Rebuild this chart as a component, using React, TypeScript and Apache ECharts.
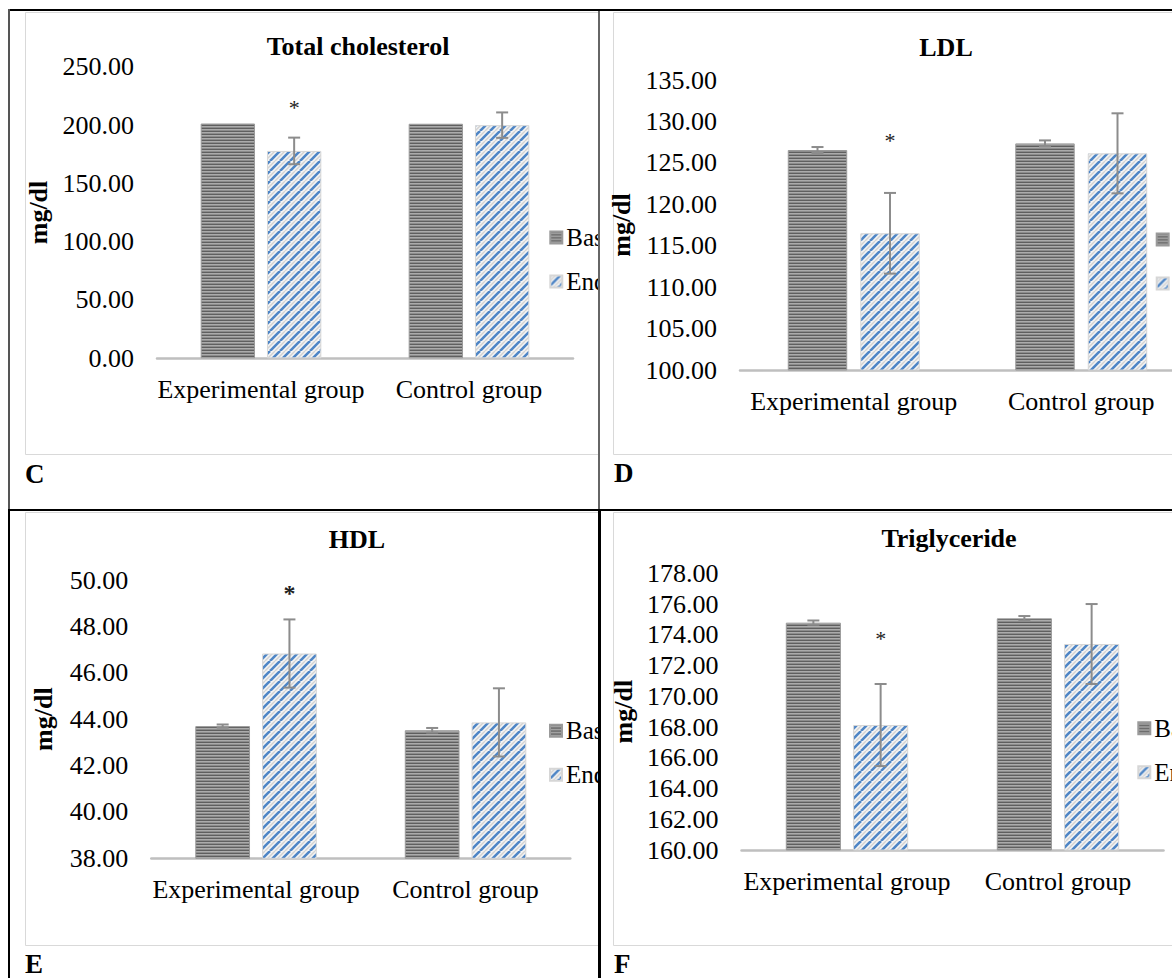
import React, { useEffect, useRef } from 'react';
import * as echarts from 'echarts';

// ---------------- DATA ----------------
const CATEGORIES = ['Experimental group', 'Control group'];
const SERIES_NAMES = ['Baseline', 'End'];
const Y_NAME = 'mg/dl';

const TC_TITLE = 'Total cholesterol';
const TC_BASE = [201.3, 201.1];
const TC_END = [177.8, 199.9];
const TC_BASE_ERR = [0, 0];
const TC_END_ERR = [11.4, 10.9];
const TC_STAR = 218.8;
const TC_AXIS = [0, 250, 50]; // min, max, step

const LDL_TITLE = 'LDL';
const LDL_BASE = [126.55, 127.35];
const LDL_END = [116.5, 126.15];
const LDL_BASE_ERR = [0.36, 0.36];
const LDL_END_ERR = [4.87, 4.83];
const LDL_STAR = 128.24;
const LDL_AXIS = [100, 135, 5];

const HDL_TITLE = 'HDL';
const HDL_BASE = [43.7, 43.52];
const HDL_END = [46.83, 43.86];
const HDL_BASE_ERR = [0.07, 0.1];
const HDL_END_ERR = [1.47, 1.47];
const HDL_STAR = 49.65;
const HDL_AXIS = [38, 50, 2];

const TG_TITLE = 'Triglyceride';
const TG_BASE = [174.79, 175.07];
const TG_END = [168.13, 173.4];
const TG_BASE_ERR = [0.14, 0.15];
const TG_END_ERR = [2.67, 2.6];
const TG_STAR = 174.03;
const TG_AXIS = [160, 178, 2];

const PANEL_LETTERS = ['C', 'D', 'E', 'F'];

// ---------------- STYLE / LAYOUT ----------------
const FONT = '"Liberation Serif", "Times New Roman", Times, serif';
const FS = 26;
const CAT_GAP = 0.42;
const BAR_GAP = 0.22;

function hStripes() {
  const c = document.createElement('canvas');
  c.width = 4;
  c.height = 3;
  const g = c.getContext('2d')!;
  const rows = ['#5f5f5f', '#ababab', '#8c8c8c'];
  rows.forEach((col, i) => {
    g.fillStyle = col;
    g.fillRect(0, i, 4, 1);
  });
  return { image: c, repeat: 'repeat', imageWidth: 4, imageHeight: 3 };
}

function dStripes() {
  const n = 10;
  const c = document.createElement('canvas');
  c.width = n;
  c.height = n;
  const g = c.getContext('2d')!;
  g.fillStyle = '#f4f4f4';
  g.fillRect(0, 0, n, n);
  g.strokeStyle = '#d2d2d2';
  g.lineWidth = 1.4;
  for (const k of [-n, 0, n]) {
    g.beginPath();
    g.moveTo(k + n / 2, n);
    g.lineTo(k + n / 2 + n, 0);
    g.stroke();
  }
  g.strokeStyle = '#4f86c6';
  g.lineWidth = 2.6;
  for (const k of [-n, 0, n]) {
    g.beginPath();
    g.moveTo(k, n);
    g.lineTo(k + n, 0);
    g.stroke();
  }
  return { image: c, repeat: 'repeat', imageWidth: n, imageHeight: n };
}

type Panel = {
  title: string;
  base: number[];
  end: number[];
  baseErr: number[];
  endErr: number[];
  star: number;
  axis: number[];
  letter: string;
  cell: number[]; // x, y, w, h (page)
  frame: number[]; // x, y, bottom (page)
  grid: number[]; // left, top, width, height (page)
  titleAt: number[];
  legendAt: number[];
  nameGap: number;
  letterAt: number[];
  starSize: number;
  starBold: boolean;
};

const PANELS: Panel[] = [
  {
    title: TC_TITLE, base: TC_BASE, end: TC_END, baseErr: TC_BASE_ERR, endErr: TC_END_ERR,
    star: TC_STAR, axis: TC_AXIS, letter: PANEL_LETTERS[0],
    cell: [10, 11, 588, 498], frame: [25, 12, 454], grid: [157, 66.7, 416, 291.6],
    titleAt: [358, 46.7], legendAt: [549.3, 237.5], nameGap: 101, letterAt: [25, 474],
    starSize: 22, starBold: false,
  },
  {
    title: LDL_TITLE, base: LDL_BASE, end: LDL_END, baseErr: LDL_BASE_ERR, endErr: LDL_END_ERR,
    star: LDL_STAR, axis: LDL_AXIS, letter: PANEL_LETTERS[1],
    cell: [600, 11, 572, 498], frame: [613, 12, 454], grid: [740, 80, 455, 290],
    titleAt: [946, 47], legendAt: [1155.7, 239.5], nameGap: 95, letterAt: [614, 473],
    starSize: 22, starBold: false,
  },
  {
    title: HDL_TITLE, base: HDL_BASE, end: HDL_END, baseErr: HDL_BASE_ERR, endErr: HDL_END_ERR,
    star: HDL_STAR, axis: HDL_AXIS, letter: PANEL_LETTERS[2],
    cell: [10, 511, 588, 467], frame: [25, 512, 945], grid: [151.3, 580, 419, 278.3],
    titleAt: [357, 539.3], legendAt: [549, 730.7], nameGap: 95, letterAt: [25, 964],
    starSize: 24, starBold: true,
  },
  {
    title: TG_TITLE, base: TG_BASE, end: TG_END, baseErr: TG_BASE_ERR, endErr: TG_END_ERR,
    star: TG_STAR, axis: TG_AXIS, letter: PANEL_LETTERS[3],
    cell: [601, 511, 571, 467], frame: [613, 512, 945], grid: [741.5, 573.3, 422, 276.7],
    titleAt: [949, 538.3], legendAt: [1137.3, 728.3], nameGap: 101, letterAt: [614, 964],
    starSize: 22, starBold: false,
  },
];

function barOffset(band: number, s: number) {
  const w = (band * (1 - CAT_GAP)) / (2 + BAR_GAP);
  return ((w + w * BAR_GAP) / 2) * (s === 0 ? -1 : 1);
}

function buildOption(p: Panel) {
  const cx = p.cell[0];
  const cy = p.cell[1];
  const errData: number[][] = [];
  p.base.forEach((v, i) => {
    if (p.baseErr[i] > 0) errData.push([i, v, p.baseErr[i], 0]);
  });
  p.end.forEach((v, i) => {
    if (p.endErr[i] > 0) errData.push([i, v, p.endErr[i], 1]);
  });

  return {
    animation: false,
    textStyle: { fontFamily: FONT },
    graphic: [
      {
        type: 'rect',
        silent: true,
        z: -10,
        shape: { x: p.frame[0] - cx + 0.5, y: p.frame[1] - cy + 0.5, width: 900, height: p.frame[2] - p.frame[1] },
        style: { fill: 'none', stroke: '#d9d9d9', lineWidth: 1 },
      },
      {
        type: 'text',
        x: p.titleAt[0] - cx,
        y: p.titleAt[1] - cy,
        style: {
          text: p.title,
          fontFamily: FONT,
          fontSize: FS,
          fontWeight: 'bold',
          fill: '#000',
          align: 'center',
          verticalAlign: 'middle',
        },
      },
      {
        type: 'text',
        x: p.letterAt[0] - cx,
        y: p.letterAt[1] - cy,
        style: {
          text: p.letter,
          fontFamily: FONT,
          fontSize: 27,
          fontWeight: 'bold',
          fill: '#000',
          align: 'left',
          verticalAlign: 'middle',
        },
      },
    ],
    legend: {
      orient: 'vertical',
      left: p.legendAt[0] - cx,
      top: p.legendAt[1] - 12.5 - cy,
      padding: 0,
      itemWidth: 12,
      itemHeight: 12,
      itemGap: 19,
      icon: 'rect',
      selectedMode: false,
      data: SERIES_NAMES,
      textStyle: { fontFamily: FONT, fontSize: 25, color: '#000', padding: [0, 0, 0, -1] },
    },
    grid: {
      left: p.grid[0] - cx,
      top: p.grid[1] - cy,
      width: p.grid[2],
      height: p.grid[3],
      outerBoundsMode: 'none',
      containLabel: false,
    },
    xAxis: {
      type: 'category',
      data: CATEGORIES,
      axisLine: { onZero: false, lineStyle: { color: '#bfbfbf', width: 2.5 } },
      axisTick: { show: false },
      axisLabel: { fontFamily: FONT, fontSize: FS, color: '#000', margin: 18.5, interval: 0, hideOverlap: false },
      splitLine: { show: false },
    },
    yAxis: {
      type: 'value',
      min: p.axis[0],
      max: p.axis[1],
      interval: p.axis[2],
      name: Y_NAME,
      nameLocation: 'middle',
      nameGap: p.nameGap,
      nameTextStyle: { fontFamily: FONT, fontSize: FS, fontWeight: 'bold', color: '#000' },
      axisLine: { show: false },
      axisTick: { show: false },
      splitLine: { show: false },
      axisLabel: {
        fontFamily: FONT,
        fontSize: FS,
        color: '#000',
        margin: 23,
        formatter: (v: number) => v.toFixed(2),
      },
    },
    series: [
      {
        name: SERIES_NAMES[0],
        type: 'bar',
        data: p.base,
        barGap: BAR_GAP * 100 + '%',
        barCategoryGap: CAT_GAP * 100 + '%',
        itemStyle: { color: hStripes(), borderColor: '#9a9a9a', borderWidth: 1 },
      },
      {
        name: SERIES_NAMES[1],
        type: 'bar',
        data: p.end,
        barGap: BAR_GAP * 100 + '%',
        barCategoryGap: CAT_GAP * 100 + '%',
        itemStyle: { color: dStripes(), borderColor: '#d6d6d6', borderWidth: 1 },
      },
      {
        name: 'error',
        type: 'custom',
        silent: true,
        z: 5,
        data: errData,
        renderItem: (_params: any, api: any) => {
          const i = api.value(0);
          const v = api.value(1);
          const e = api.value(2);
          const s = api.value(3);
          const band = api.size([1, 0])[0];
          const x = api.coord([i, v])[0] + barOffset(band, s);
          const y1 = api.coord([i, v + e])[1];
          const y2 = api.coord([i, v - e])[1];
          const st = { stroke: '#8c8c8c', lineWidth: 2 };
          return {
            type: 'group',
            children: [
              { type: 'line', shape: { x1: x, y1, x2: x, y2 }, style: st },
              { type: 'line', shape: { x1: x - 6, y1, x2: x + 6, y2: y1 }, style: st },
              { type: 'line', shape: { x1: x - 6, y1: y2, x2: x + 6, y2 }, style: st },
            ],
          };
        },
      },
      {
        name: 'significance',
        type: 'custom',
        silent: true,
        z: 6,
        data: [[0, p.star]],
        renderItem: (_params: any, api: any) => {
          const band = api.size([1, 0])[0];
          const pt = api.coord([api.value(0), api.value(1)]);
          return {
            type: 'text',
            x: pt[0] + barOffset(band, 1),
            y: pt[1] + p.starSize * 0.19,
            style: {
              text: '*',
              fontFamily: FONT,
              fontSize: p.starSize,
              fontWeight: p.starBold ? 'bold' : 'normal',
              fill: '#222',
              align: 'center',
              verticalAlign: 'middle',
            },
          };
        },
      },
    ],
  };
}

function ChartPanel({ p }: { p: Panel }) {
  const ref = useRef<HTMLDivElement>(null);
  useEffect(() => {
    if (!ref.current) return;
    const chart = echarts.init(ref.current, null, { renderer: 'svg' });
    chart.setOption(buildOption(p) as any);
    return () => chart.dispose();
  }, [p]);
  return (
    <div
      ref={ref}
      style={{
        position: 'absolute',
        left: p.cell[0],
        top: p.cell[1],
        width: p.cell[2],
        height: p.cell[3],
        overflow: 'hidden',
      }}
    />
  );
}

function Line({ x, y, w, h, c }: { x: number; y: number; w: number; h: number; c: string }) {
  return <div style={{ position: 'absolute', left: x, top: y, width: w, height: h, background: c, zIndex: 5 }} />;
}

export default function App() {
  return (
    <div
      style={{
        position: 'fixed',
        left: 0,
        top: 0,
        width: 1172,
        height: 978,
        overflow: 'hidden',
        background: '#fff',
      }}
    >
      {PANELS.map((p) => (
        <ChartPanel key={p.letter} p={p} />
      ))}
      <Line x={8} y={9} w={1164} h={2} c="#000" />
      <Line x={8} y={9} w={2} h={501} c="#555" />
      <Line x={8} y={509} w={2} h={469} c="#000" />
      <Line x={598} y={11} w={1.5} h={498} c="#666" />
      <Line x={597.5} y={509} w={3} h={469} c="#000" />
      <Line x={8} y={509} w={1164} h={2} c="#000" />
    </div>
  );
}
